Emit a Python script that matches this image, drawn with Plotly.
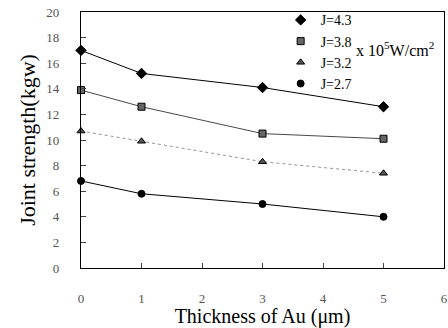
import plotly.graph_objects as go

thickness = [0, 1, 3, 5]
series_names = ["J=4.3", "J=3.8", "J=3.2", "J=2.7"]
j43 = [17.0, 15.2, 14.1, 12.6]
j38 = [13.9, 12.6, 10.5, 10.1]
j32 = [10.7, 9.9, 8.3, 7.4]
j27 = [6.8, 5.8, 5.0, 4.0]
x_ticks = [0, 1, 2, 3, 4, 5, 6]
y_ticks = [0, 2, 4, 6, 8, 10, 12, 14, 16, 18, 20]

styles = [
    dict(symbol="diamond", color="black", lc="black", dash="solid", w=1.0, size=8),
    dict(symbol="square", color="#666", lc="#333", dash="solid", w=0.9, size=7),
    dict(symbol="triangle-up", color="#555", lc="#888", dash="dot", w=0.9, size=7),
    dict(symbol="circle", color="black", lc="black", dash="solid", w=1.0, size=7),
]

fig = go.Figure()
for name, vals, st in zip(series_names, [j43, j38, j32, j27], styles):
    fig.add_trace(go.Scatter(
        x=thickness, y=vals, name=name, mode="lines+markers", showlegend=False,
        line=dict(color=st["lc"], width=st["w"], dash=st["dash"]),
        marker=dict(symbol=st["symbol"], size=st["size"], color=st["color"],
                    line=dict(color="black", width=1)),
        cliponaxis=False,
    ))
for name, st in zip(series_names, styles):
    fig.add_trace(go.Scatter(
        x=[None], y=[None], name=name, mode="markers",
        marker=dict(symbol=st["symbol"], size=st["size"], color=st["color"],
                    line=dict(color="black", width=1)),
    ))

font_serif = "Liberation Serif, Times New Roman, serif"
fig.update_layout(
    width=448, height=328,
    margin=dict(l=81, r=4, t=12, b=60, autoexpand=False),
    paper_bgcolor="white", plot_bgcolor="white",
    font=dict(family=font_serif, color="black"),
    showlegend=True,
    legend=dict(x=0.55, y=1.03, xanchor="left", yanchor="top",
                bgcolor="rgba(0,0,0,0)", font=dict(size=14, family=font_serif),
                itemwidth=30, tracegroupgap=0),
    xaxis=dict(range=[0, 6], tickvals=x_ticks, ticks="inside", ticklen=5,
               showgrid=False, zeroline=False, showline=True, linecolor="black",
               linewidth=1.2, mirror=True, ticklabelstandoff=18, automargin=False,
               tickfont=dict(size=13, color="#555"),
               title=dict(text="Thickness of Au (\u03bcm)", font=dict(size=20), standoff=2)),
    yaxis=dict(range=[0, 20], tickvals=y_ticks, ticks="inside", ticklen=5,
               showgrid=False, zeroline=False, showline=True, linecolor="black",
               linewidth=1.2, mirror=True, ticklabelstandoff=18, automargin=False,
               tickfont=dict(size=13, color="#555"),
               title=dict(text="Joint strength(kgw)", font=dict(size=22), standoff=4)),
)
fig.add_annotation(x=0.865, y=0.855, xref="paper", yref="paper",
                   text="x 10<sup>5</sup>W/cm<sup>2</sup>", showarrow=False,
                   font=dict(size=16, family=font_serif), xanchor="center", yanchor="middle")
fig.write_html("out.html", config={"displayModeBar": False},
               post_script="document.body.style.margin='0';")
